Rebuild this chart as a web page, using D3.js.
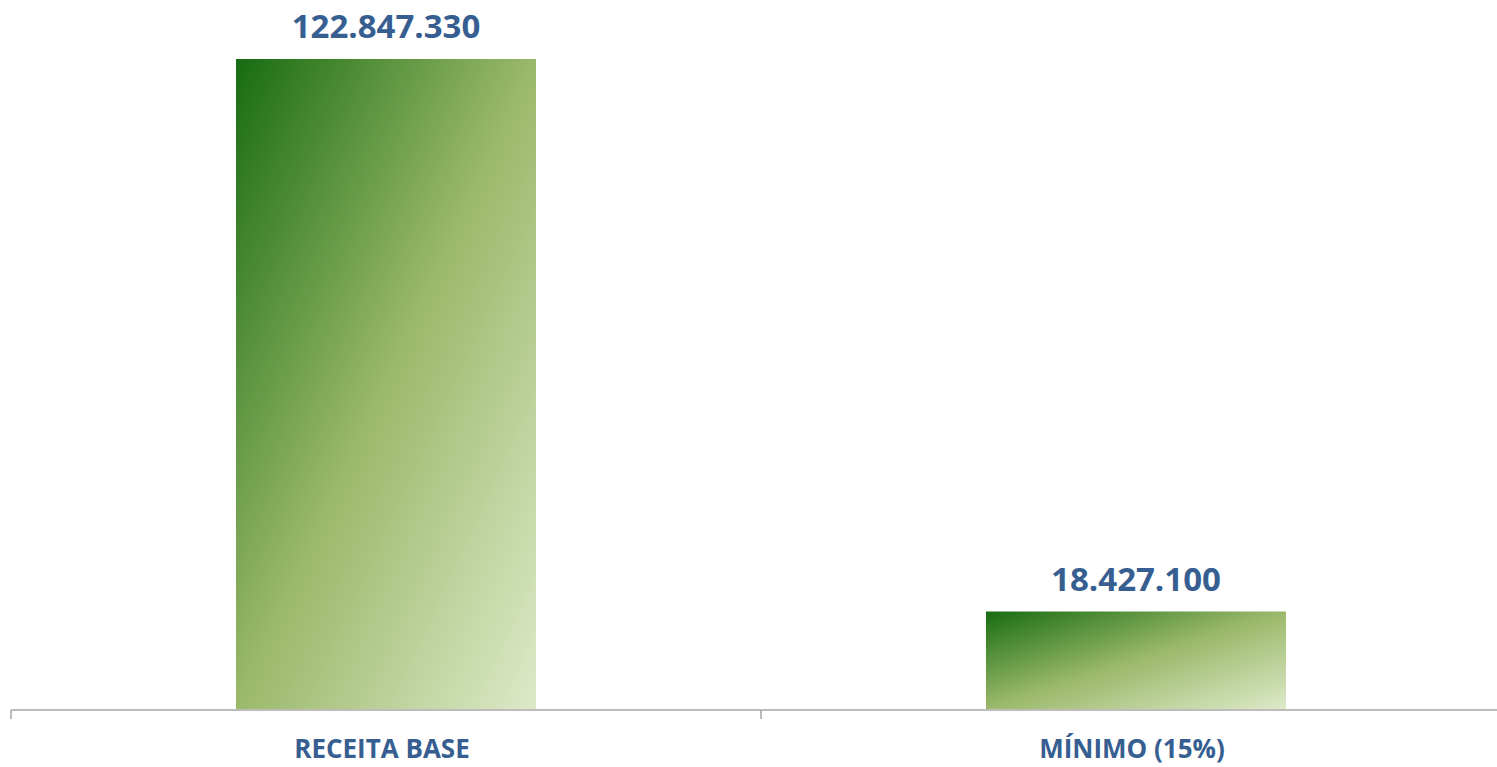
<!DOCTYPE html>
<html><head><meta charset="utf-8">
<script src="https://cdn.jsdelivr.net/npm/d3@7/dist/d3.min.js"></script>
<style>html,body{margin:0;padding:0;background:#fff;overflow:hidden}</style>
</head><body>
<svg id="c" width="1497" height="767"></svg>
<script>
const categories = ["RECEITA BASE", "MÍNIMO (15%)"];
const values = [122847330, 18427100];
const valueLabels = ["122.847.330", "18.427.100"];

const svg = d3.select("#c");
const textColor = "#375E91";
const font = "'Open Sans', sans-serif";

const defs = svg.append("defs");
const g = defs.append("linearGradient").attr("id","grad")
  .attr("x1",0).attr("y1",0).attr("x2",1).attr("y2",1);
g.append("stop").attr("offset","0%").attr("stop-color","#186c12");
g.append("stop").attr("offset","50%").attr("stop-color","#9bb96b");
g.append("stop").attr("offset","100%").attr("stop-color","#dde9c9");

const x = d3.scaleBand().domain(categories).range([11,1511]).paddingInner(0.6).paddingOuter(0.3);
const y = d3.scaleLinear().domain([0, values[0]]).range([709, 59]);

const data = categories.map((c,i)=>({c, v: values[i], l: valueLabels[i]}));

svg.selectAll("rect.bar").data(data).enter().append("rect")
  .attr("class","bar")
  .attr("x", d=>x(d.c)).attr("width", x.bandwidth())
  .attr("y", d=>y(d.v)).attr("height", d=>y(0)-y(d.v))
  .attr("fill","url(#grad)");

// axis
const step = x.step();
svg.append("line").attr("x1",11).attr("x2",1497).attr("y1",710).attr("y2",710)
  .attr("stroke","#a6a6a6").attr("stroke-width",1.5);
const tickXs = [11, 11+step, 11+2*step];
svg.selectAll("line.tick").data(tickXs).enter().append("line")
  .attr("class","tick").attr("x1",d=>d).attr("x2",d=>d).attr("y1",710).attr("y2",719)
  .attr("stroke","#a6a6a6").attr("stroke-width",1.5);

svg.selectAll("text.val").data(data).enter().append("text")
  .attr("class","val")
  .attr("x", d=>x(d.c)+x.bandwidth()/2)
  .attr("y", d=>y(d.v)-21)
  .attr("text-anchor","middle")
  .attr("font-family",font).attr("font-weight","bold").attr("font-size",33)
  .attr("fill",textColor).text(d=>d.l);

svg.selectAll("text.cat").data(data).enter().append("text")
  .attr("class","cat")
  .attr("x", d=>x(d.c)+x.bandwidth()/2 - 4)
  .attr("y", 758)
  .attr("text-anchor","middle")
  .attr("font-family",font).attr("font-weight","bold").attr("font-size",26)
  .attr("fill",textColor).text(d=>d.c);
</script>
</body></html>
